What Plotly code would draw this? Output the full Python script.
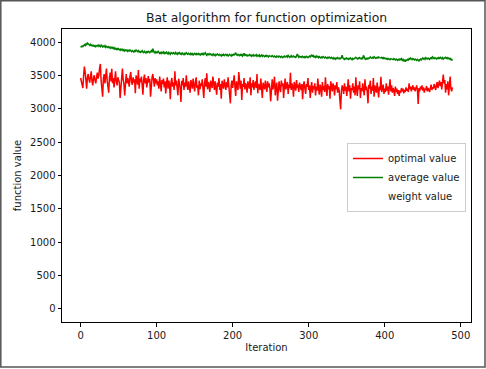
import plotly.graph_objects as go

optimal_value = [
    3460, 3420, 3380, 3310, 3500, 3630, 3550, 3380, 3300, 3470,
    3520, 3440, 3390, 3480, 3560, 3410, 3350, 3460, 3500, 3420,
    3380, 3470, 3540, 3450, 3500, 3610, 3670, 3420, 3300, 3180,
    3450, 3520, 3380, 3490, 3600, 3420, 3350, 3240, 3470, 3540,
    3410, 3600, 3380, 3460, 3320, 3500, 3560, 3400, 3350, 3470,
    3420, 3390, 3160, 3310, 3480, 3600, 3440, 3370, 3200, 3450,
    3520, 3380, 3460, 3410, 3330, 3490, 3550, 3400, 3360, 3470,
    3390, 3440, 3230, 3500, 3420, 3360, 3580, 3300, 3450, 3400,
    3480, 3350, 3210, 3440, 3510, 3380, 3460, 3320, 3420, 3490,
    3390, 3450, 3180, 3360, 3470, 3520, 3400, 3330, 3460, 3380,
    3440, 3350, 3410, 3300, 3480, 3390, 3260, 3430, 3370, 3450,
    3320, 3410, 3230, 3380, 3470, 3300, 3420, 3360, 3140, 3400,
    3460, 3330, 3390, 3280, 3560, 3350, 3420, 3310, 3200, 3450,
    3380, 3300, 3100, 3420, 3350, 3460, 3280, 3390, 3330, 3500,
    3360, 3280, 3410, 3340, 3240, 3430, 3370, 3300, 3450, 3330,
    3260, 3390, 3470, 3310, 3350, 3200, 3420, 3290, 3380, 3340,
    3440, 3300, 3160, 3380, 3460, 3330, 3530, 3290, 3400, 3350,
    3250, 3420, 3370, 3310, 3480, 3360, 3280, 3410, 3340, 3210,
    3390, 3330, 3460, 3280, 3370, 3150, 3420, 3350, 3300, 3440,
    3360, 3280, 3400, 3320, 3470, 3370, 3240, 3080, 3350, 3420,
    3310, 3380, 3500, 3330, 3190, 3410, 3350, 3280, 3550, 3360,
    3300, 3420, 3130, 3370, 3330, 3460, 3290, 3380, 3340, 3240,
    3410, 3350, 3300, 3470, 3200, 3380, 3320, 3430, 3280, 3360,
    3410, 3310, 3520, 3230, 3370, 3340, 3280, 3450, 3320, 3160,
    3390, 3350, 3290, 3420, 3360, 3250, 3410, 3320, 3380, 3300,
    3110, 3380, 3440, 3290, 3350, 3480, 3200, 3330, 3390, 3120,
    3360, 3410, 3300, 3250, 3420, 3340, 3380, 3160, 3330, 3450,
    3290, 3350, 3400, 3220, 3360, 3310, 3540, 3280, 3380, 3330,
    3180, 3400, 3340, 3270, 3430, 3310, 3360, 3250, 3390, 3330,
    3280, 3370, 3140, 3350, 3410, 3300, 3220, 3370, 3330, 3460,
    3280, 3350, 3160, 3310, 3400, 3240, 3340, 3290, 3380, 3200,
    3330, 3270, 3450, 3300, 3210, 3360, 3310, 3180, 3400, 3280,
    3340, 3250, 3470, 3300, 3190, 3370, 3290, 3340, 3150, 3410,
    3300, 3260, 3380, 3330, 3200, 3350, 3290, 3400, 3240, 3320,
    3280, 3120, 2990, 3260, 3350, 3300, 3220, 3380, 3270, 3330,
    3190, 3300, 3440, 3260, 3350, 3150, 3310, 3280, 3380, 3240,
    3330, 3200, 3470, 3280, 3190, 3350, 3290, 3410, 3160, 3310,
    3260, 3380, 3300, 3200, 3440, 3280, 3330, 3250, 3080, 3360,
    3300, 3420, 3220, 3330, 3270, 3460, 3180, 3350, 3290, 3240,
    3390, 3300, 3170, 3330, 3280, 3480, 3250, 3310, 3360, 3220,
    3300, 3250, 3380, 3270, 3330, 3210, 3290, 3440, 3260, 3350,
    3240, 3310, 3270, 3190, 3330, 3250, 3300, 3220, 3280, 3190,
    3270, 3240, 3310, 3260, 3300, 3230, 3280, 3250, 3320, 3270,
    3300, 3250, 3380, 3290, 3330, 3260, 3310, 3350, 3280, 3320,
    3260, 3300, 3350, 3280, 3070, 3310, 3260, 3330, 3290, 3350,
    3270, 3320, 3240, 3300, 3280, 3340, 3260, 3310, 3290, 3250,
    3310, 3360, 3280, 3320, 3300, 3370, 3330, 3280, 3350, 3400,
    3310, 3360, 3420, 3340, 3400, 3290, 3450, 3510, 3380, 3430,
    3240, 3370, 3290, 3410, 3200, 3340, 3480, 3300, 3260, 3320,
]

average_value = [
    3920, 3935, 3940, 3930, 3955, 3960, 3945, 3970, 3960, 3985,
    3975, 3960, 3950, 3965, 3945, 3955, 3940, 3950, 3935, 3945,
    3930, 3945, 3950, 3935, 3955, 3940, 3930, 3960, 3945, 3925,
    3940, 3930, 3945, 3920, 3935, 3925, 3915, 3930, 3920, 3905,
    3925, 3910, 3920, 3900, 3915, 3895, 3905, 3890, 3910, 3880,
    3900, 3890, 3875, 3895, 3880, 3890, 3870, 3885, 3865, 3880,
    3870, 3880, 3860, 3875, 3865, 3880, 3870, 3855, 3870, 3865,
    3850, 3870, 3860, 3880, 3865, 3855, 3870, 3850, 3860, 3845,
    3855, 3870, 3850, 3840, 3860, 3850, 3835, 3855, 3845, 3860,
    3850, 3840, 3855, 3870, 3845, 3900, 3860, 3840, 3855, 3835,
    3850, 3840, 3860, 3845, 3830, 3850, 3820, 3845, 3835, 3850,
    3825, 3840, 3830, 3850, 3835, 3820, 3845, 3830, 3815, 3840,
    3835, 3825, 3840, 3830, 3820, 3845, 3830, 3815, 3835, 3825,
    3840, 3820, 3830, 3815, 3835, 3825, 3810, 3830, 3820, 3840,
    3825, 3815, 3830, 3820, 3810, 3830, 3815, 3825, 3805, 3820,
    3830, 3815, 3825, 3810, 3820, 3830, 3810, 3820, 3805, 3825,
    3815, 3830, 3810, 3820, 3840, 3815, 3800, 3820, 3810, 3825,
    3810, 3820, 3805, 3815, 3800, 3820, 3810, 3795, 3815, 3805,
    3820, 3810, 3800, 3815, 3805, 3790, 3810, 3800, 3815, 3795,
    3805, 3815, 3800, 3810, 3790, 3805, 3815, 3800, 3790, 3810,
    3800, 3815, 3805, 3820, 3840, 3810, 3800, 3815, 3805, 3795,
    3810, 3800, 3815, 3790, 3805, 3830, 3800, 3810, 3795, 3805,
    3790, 3800, 3810, 3795, 3805, 3785, 3800, 3810, 3790, 3800,
    3795, 3810, 3785, 3800, 3790, 3805, 3780, 3795, 3805, 3785,
    3800, 3790, 3780, 3795, 3785, 3800, 3790, 3775, 3795, 3785,
    3790, 3780, 3795, 3785, 3775, 3790, 3780, 3770, 3790, 3780,
    3775, 3790, 3780, 3770, 3785, 3775, 3765, 3780, 3790, 3775,
    3780, 3790, 3775, 3800, 3785, 3770, 3780, 3795, 3775, 3785,
    3790, 3775, 3780, 3770, 3785, 3820, 3780, 3770, 3785, 3775,
    3780, 3770, 3785, 3775, 3765, 3780, 3770, 3785, 3775, 3765,
    3780, 3790, 3775, 3785, 3810, 3780, 3795, 3775, 3785, 3770,
    3790, 3775, 3785, 3765, 3780, 3770, 3760, 3775, 3765, 3780,
    3770, 3760, 3775, 3765, 3755, 3770, 3760, 3775, 3765, 3755,
    3770, 3760, 3745, 3765, 3755, 3740, 3760, 3750, 3765, 3755,
    3745, 3760, 3750, 3770, 3800, 3760, 3750, 3740, 3755, 3745,
    3760, 3750, 3740, 3755, 3745, 3760, 3750, 3735, 3755, 3745,
    3750, 3760, 3770, 3755, 3745, 3760, 3750, 3765, 3755, 3745,
    3760, 3750, 3800, 3760, 3750, 3740, 3755, 3745, 3760, 3750,
    3765, 3775, 3760, 3755, 3770, 3760, 3780, 3765, 3755, 3760,
    3770, 3760, 3775, 3765, 3755, 3760, 3770, 3755, 3765, 3750,
    3760, 3750, 3745, 3755, 3740, 3750, 3745, 3735, 3750, 3740,
    3745, 3735, 3750, 3740, 3730, 3745, 3735, 3725, 3740, 3730,
    3745, 3735, 3750, 3725, 3740, 3720, 3735, 3705, 3730, 3725,
    3740, 3730, 3750, 3740, 3760, 3745, 3735, 3750, 3740, 3730,
    3745, 3735, 3725, 3740, 3730, 3715, 3735, 3745, 3730, 3750,
    3760, 3745, 3755, 3740, 3765, 3750, 3745, 3760, 3755, 3740,
    3755, 3765, 3750, 3775, 3760, 3750, 3765, 3755, 3745, 3760,
    3750, 3765, 3755, 3770, 3760, 3750, 3765, 3745, 3755, 3760,
    3770, 3755, 3765, 3750, 3760, 3745, 3755, 3735, 3740, 3720,
]

iteration = list(range(len(optimal_value)))
weight_value = [0.9] * len(iteration)

x_ticks = [0, 100, 200, 300, 400, 500]
y_ticks = [0, 500, 1000, 1500, 2000, 2500, 3000, 3500, 4000]

FONT = "DejaVu Sans"

fig = go.Figure()
fig.add_trace(go.Scatter(x=iteration, y=optimal_value, mode="lines",
                         name="optimal value", line=dict(color="#ff0000", width=1.5)))
fig.add_trace(go.Scatter(x=iteration, y=average_value, mode="lines",
                         name="average value", line=dict(color="#008000", width=1.5)))
fig.add_trace(go.Scatter(x=iteration, y=weight_value, mode="lines",
                         name="weight value", line=dict(color="#ffffff", width=1.5)))

L, R, T, B = 62, 15, 29, 47
W, H = 486, 369
pw, ph = W - L - R, H - T - B

def px_x(p):
    return (p - L) / pw

def px_y(p):
    return (H - B - p) / ph

axis_common = dict(showgrid=False, zeroline=False, showline=True, linecolor="black",
                   linewidth=1, mirror=True, ticks="outside", ticklen=3.5, tickwidth=0.8,
                   tickcolor="black", tickfont=dict(family=FONT, size=10, color="#1a1a1a"))

fig.update_layout(
    width=W, height=H,
    margin=dict(l=L, r=R, t=T, b=B),
    paper_bgcolor="white", plot_bgcolor="white",
    title=dict(text="Bat algorithm for function optimization", x=0.5, xanchor="center",
               xref="paper", y=1 - 18 / H, yanchor="middle",
               font=dict(family=FONT, size=12.4, color="#1a1a1a")),
    xaxis=dict(range=[-24.45, 513.45], tickvals=x_ticks,
               title=dict(text="Iteration", standoff=4,
                          font=dict(family=FONT, size=10, color="#1a1a1a")),
               **axis_common),
    yaxis=dict(range=[-200, 4195], tickvals=y_ticks,
               title=dict(text="function value", standoff=6,
                          font=dict(family=FONT, size=10, color="#1a1a1a")),
               **axis_common),
    legend=dict(x=px_x(466), y=px_y(143), xanchor="right", yanchor="top",
                bgcolor="rgba(255,255,255,0.8)", bordercolor="#cccccc", borderwidth=1,
                font=dict(family=FONT, size=10, color="#1a1a1a"),
                itemwidth=30, tracegroupgap=0),
    showlegend=True,
)

# outer window border
fig.add_shape(type="rect", xref="paper", yref="paper",
              x0=px_x(0.8), x1=px_x(485), y0=px_y(367), y1=px_y(0.8),
              line=dict(color="#555555", width=1.5), layer="above")

fig.write_html("out.html", config={"displayModeBar": False},
               post_script="document.body.style.margin='0';document.body.style.overflow='hidden';")
